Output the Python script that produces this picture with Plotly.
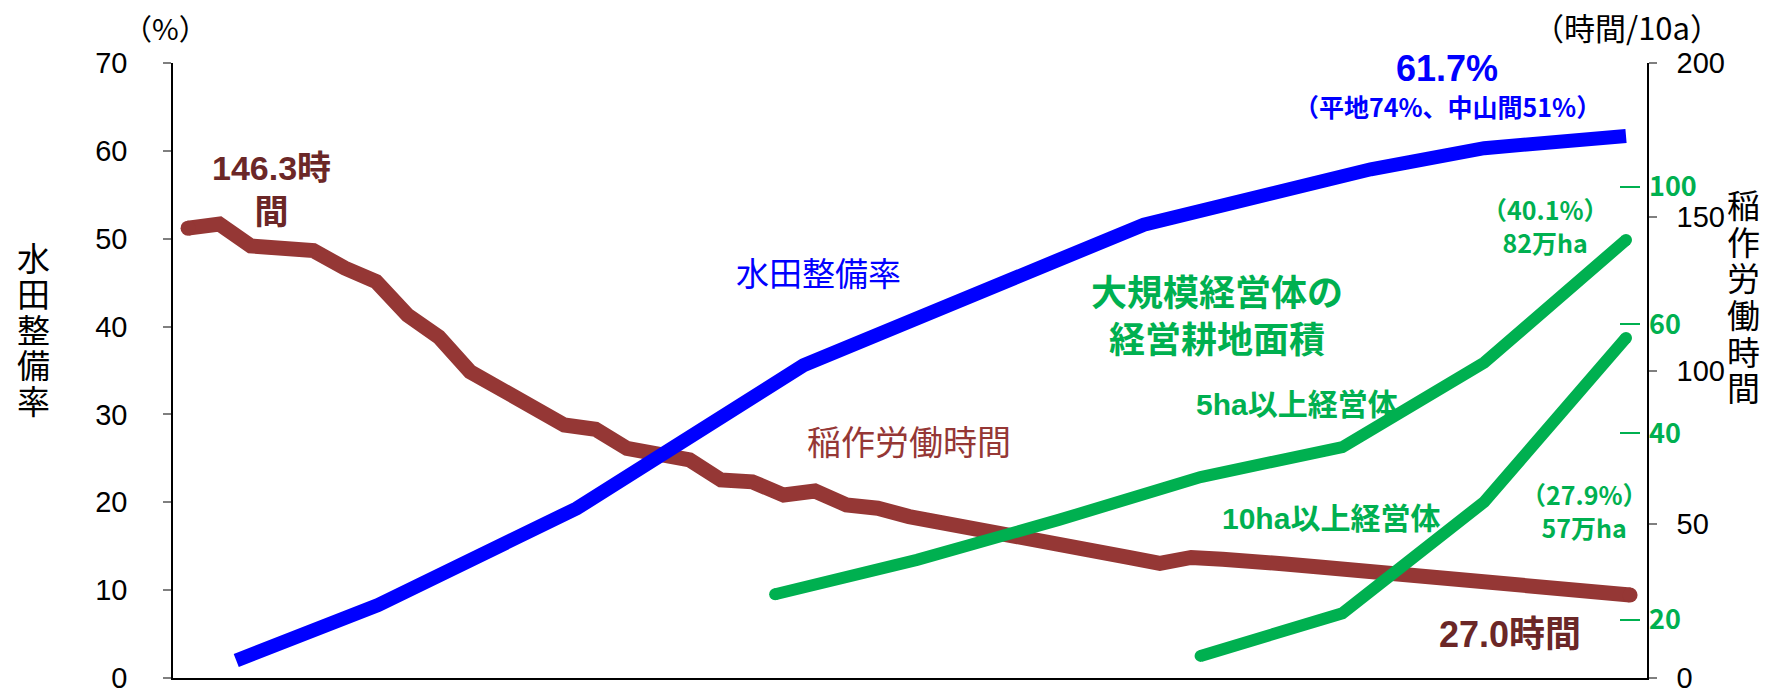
import plotly.graph_objects as go

# --- data -------------------------------------------------------------
# Rice-farming labour hours per 10a (annual series)
labor_years = list(range(1964, 2011))
labor_hours = [146.3, 147.6, 140.5, 139.7, 139.0, 133.3, 128.9, 118.0, 110.9, 99.6,
               93.7, 88.3, 82.3, 80.9, 74.7, 72.8, 70.9, 64.4, 63.8, 59.5,
               60.8, 56.3, 55.2, 52.5, 50.5, 48.4, 46.5, 44.0, 42.9, 40.7,
               39.2, 37.3, 39.2, 38.6, 37.3, 37.1, 36.2, 35.3, 34.9, 33.8,
               32.9, 31.9, 31.0, 30.2, 29.4, 28.3, 27.0]

# Paddy-field consolidation rate (%)
paddy_years = [1961, 1966, 1973, 1981, 1993, 2001, 2005, 2010]
paddy_rate = [2.0, 8.3, 19.3, 35.6, 51.6, 57.9, 60.3, 61.7]

# Farmland operated by large farms (10,000 ha), census years
census_5ha_years = [1980, 1985, 1990, 1995, 2000, 2005, 2010]
area_5ha = [22, 25, 29, 34, 38, 52, 82]
census_10ha_years = [1995, 2000, 2005, 2010]
area_10ha = [17.5, 20.5, 31, 57]

left_ticks = [0, 10, 20, 30, 40, 50, 60, 70]
right_ticks = [0, 50, 100, 150, 200]
green_ticks = [20, 40, 60, 100]

# --- styling ----------------------------------------------------------
BROWN = "#953735"
DARK_BROWN = "#6B2727"
BLUE = "#0000FF"
GREEN = "#00B050"
LATIN = "Liberation Sans, Arial, Noto Sans CJK JP, sans-serif"
CJK = "Noto Sans CJK JP, Liberation Sans, sans-serif"

W, H = 1767, 690
PL, PR, PT, PB = 173, 1647, 63, 678


def px_x(x):
    return (x - PL) / (PR - PL)


def px_y(y):
    return (PB - y) / (PB - PT)


def end_sizes(n, size):
    s = [0] * n
    s[0] = size
    s[-1] = size
    return s


fig = go.Figure()

fig.add_trace(go.Scatter(
    x=labor_years, y=labor_hours, xaxis="x", yaxis="y",
    mode="lines+markers",
    line=dict(color=BROWN, width=15),
    marker=dict(color=BROWN, opacity=1, size=end_sizes(len(labor_years), 15),
                line=dict(width=0)),
    hoverinfo="skip", showlegend=False,
))

fig.add_trace(go.Scatter(
    x=paddy_years, y=paddy_rate, xaxis="x2", yaxis="y2",
    mode="lines",
    line=dict(color=BLUE, width=14),
    hoverinfo="skip", showlegend=False,
))

for yrs, vals in ((census_5ha_years, area_5ha), (census_10ha_years, area_10ha)):
    fig.add_trace(go.Scatter(
        x=yrs, y=vals, xaxis="x2", yaxis="y3",
        mode="lines+markers",
        line=dict(color=GREEN, width=12),
        marker=dict(color=GREEN, opacity=1, size=end_sizes(len(yrs), 12),
                    line=dict(width=0)),
        hoverinfo="skip", showlegend=False,
    ))

axis_common = dict(showgrid=False, zeroline=False, automargin=False)
tick_font = dict(family=LATIN, size=29, color="black")

fig.update_layout(
    width=W, height=H,
    margin=dict(l=PL, r=W - PR, t=PT, b=H - PB, pad=0, autoexpand=False),
    paper_bgcolor="white", plot_bgcolor="white",
    xaxis=dict(range=[1963.52, 2010.54], showline=True, linecolor="black", linewidth=1.5,
               showticklabels=False, ticks="", **axis_common),
    xaxis2=dict(range=[1958.77, 2010.74], overlaying="x", visible=False, **axis_common),
    yaxis=dict(range=[0, 200], side="right", tickvals=right_ticks,
               showline=True, linecolor="black", linewidth=1.5,
               ticks="outside", ticklen=8, tickcolor="#7F7F7F", tickwidth=1.5,
               ticklabelstandoff=14, ticklabeloverflow="allow",
               tickfont=tick_font, **axis_common),
    yaxis2=dict(range=[0, 70], side="left", overlaying="y", tickvals=left_ticks,
                showline=True, linecolor="black", linewidth=1.5,
                ticks="outside", ticklen=8, tickcolor="#7F7F7F", tickwidth=1.5,
                ticklabelstandoff=30, ticklabeloverflow="allow",
                tickfont=tick_font, **axis_common),
    # large-farm area is read on a compressed (log) scale
    yaxis3=dict(type="log", range=[1.20736, 2.19929], side="right", overlaying="y",
                anchor="free", position=px_x(1640), tickvals=green_ticks,
                showline=False, ticks="inside", ticklen=20, tickcolor=GREEN, tickwidth=2,
                ticklabelstandoff=8, ticklabeloverflow="allow",
                tickfont=dict(family=CJK, size=27, color=GREEN, weight="bold"),
                **axis_common),
)


def note(text, x, y, size, color, bold=False, family=CJK):
    fig.add_annotation(
        text=text, xref="paper", yref="paper", x=px_x(x), y=px_y(y),
        xanchor="center", yanchor="middle", showarrow=False,
        font=dict(family=family, size=size, color=color, weight="bold" if bold else "normal"),
    )


def stacked(text, glyph_px):
    # one character per line; line pitch follows the annotation font size
    return "<br>".join(f'<span style="font-size:{glyph_px}px">{c}</span>' for c in text)


# axis unit labels and stacked axis titles
note("（%）", 165, 27, 29, "black")
note("（時間/10a）", 1627, 27, 31, "black")
note(stacked("水田整備率", 33), 33, 328, 27.5, "black")
note(stacked("稲作労働時間", 33), 1743, 295, 28.2, "black")

# series labels
note("146.3時<br>間", 271, 190, 34, DARK_BROWN, bold=True, family=LATIN)
note("27.0時間", 1510, 634, 36, DARK_BROWN, bold=True, family=LATIN)
note("61.7%", 1447, 68, 36, BLUE, bold=True, family=LATIN)
note("（平地74%、中山間51%）", 1447, 106, 25, BLUE, bold=True)
note("水田整備率", 818, 272, 33, BLUE)
note("稲作労働時間", 909, 440, 34, BROWN)
note("大規模経営体の<br>経営耕地面積", 1217, 313, 36, GREEN, bold=True)
note("5ha以上経営体", 1297, 404, 30, GREEN, bold=True, family=LATIN)
note("10ha以上経営体", 1331, 518, 30, GREEN, bold=True, family=LATIN)
note("（40.1%）<br>82万ha", 1545, 226, 25, GREEN, bold=True)
note("（27.9%）<br>57万ha", 1584, 510, 25, GREEN, bold=True)

fig.write_html("out.html", config={"displayModeBar": False})
